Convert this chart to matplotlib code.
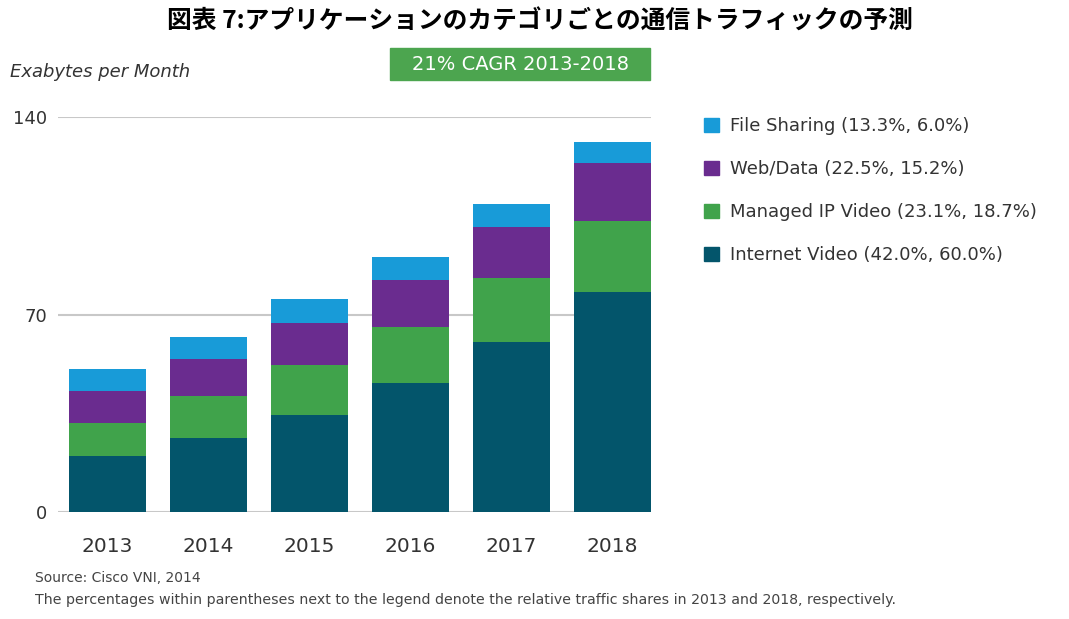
import matplotlib.pyplot as plt
from matplotlib.patches import Patch, Rectangle

years = ["2013", "2014", "2015", "2016", "2017", "2018"]
internet_video = [19.9, 26.2, 34.4, 45.7, 60.3, 78.0]
managed_ip = [11.7, 14.9, 17.7, 19.9, 22.7, 25.2]
web_data = [11.3, 13.2, 14.9, 16.7, 18.1, 20.6]
file_sharing = [7.8, 7.7, 8.5, 8.1, 8.1, 7.4]
series_names = ["Internet Video (42.0%, 60.0%)", "Managed IP Video (23.1%, 18.7%)",
                "Web/Data (22.5%, 15.2%)", "File Sharing (13.3%, 6.0%)"]
yticks = [0, 70, 140]

colors = ["#03556b", "#40a34b", "#6a2c8f", "#189bd8"]

plt.rcParams['font.family'] = ['DejaVu Sans', 'Noto Sans CJK JP']

fig = plt.figure(figsize=(10.69, 6.19), dpi=100)
ax = fig.add_axes([58 / 1069, 107 / 619, 593 / 1069, 395 / 619])

x = list(range(len(years)))
bottom = [0] * len(years)
for vals, c in zip([internet_video, managed_ip, web_data, file_sharing], colors):
    ax.bar(x, vals, 0.77, bottom=bottom, color=c, zorder=3)
    bottom = [b + v for b, v in zip(bottom, vals)]

ax.set_xlim(-0.49, 5.38)
ax.set_ylim(0, 140)
ax.set_yticks(yticks)
ax.set_xticks(x)
ax.set_xticklabels(years)
ax.tick_params(axis='y', length=0, pad=8, labelsize=13, labelcolor="#333333")
ax.tick_params(axis='x', length=0, pad=18, labelsize=14.5, labelcolor="#333333")
for s in ax.spines.values():
    s.set_visible(False)
ax.yaxis.grid(True, color="#c8c8c8", lw=1.5, zorder=0)
ax.set_axisbelow(True)

handles = [Patch(color=c) for c in colors][::-1]
fig.legend(handles, series_names[::-1], loc="upper left", bbox_to_anchor=(688 / 1069, 1 - 101 / 619),
           frameon=False, fontsize=13, handlelength=0.8, handleheight=0.8, handletextpad=0.6,
           labelspacing=1.38, labelcolor="#333333")

fig.text(0.505, 1 - 22 / 619, "図表 7:アプリケーションのカテゴリごとの通信トラフィックの予測",
         ha="center", va="center", fontsize=17.8, fontweight="bold",
         family=['Noto Sans CJK JP', 'DejaVu Sans'])

fig.patches.append(Rectangle((390 / 1069, 1 - 80 / 619), 260 / 1069, 32 / 619,
                             transform=fig.transFigure, color="#4ca54f", zorder=1))
fig.text(520 / 1069, 1 - 64 / 619, "21% CAGR 2013-2018", ha="center", va="center",
         fontsize=14, color="white")

fig.text(10 / 1069, 1 - 72 / 619, "Exabytes per Month", ha="left", va="center",
         fontsize=13, style="italic", color="#333333")

fig.text(35 / 1069, 1 - 578 / 619, "Source: Cisco VNI, 2014", ha="left", va="center",
         fontsize=10, color="#444444")
fig.text(35 / 1069, 1 - 600 / 619,
         "The percentages within parentheses next to the legend denote the relative traffic shares in 2013 and 2018, respectively.",
         ha="left", va="center", fontsize=10.2, color="#444444")

fig.savefig("out.png", dpi=100)
